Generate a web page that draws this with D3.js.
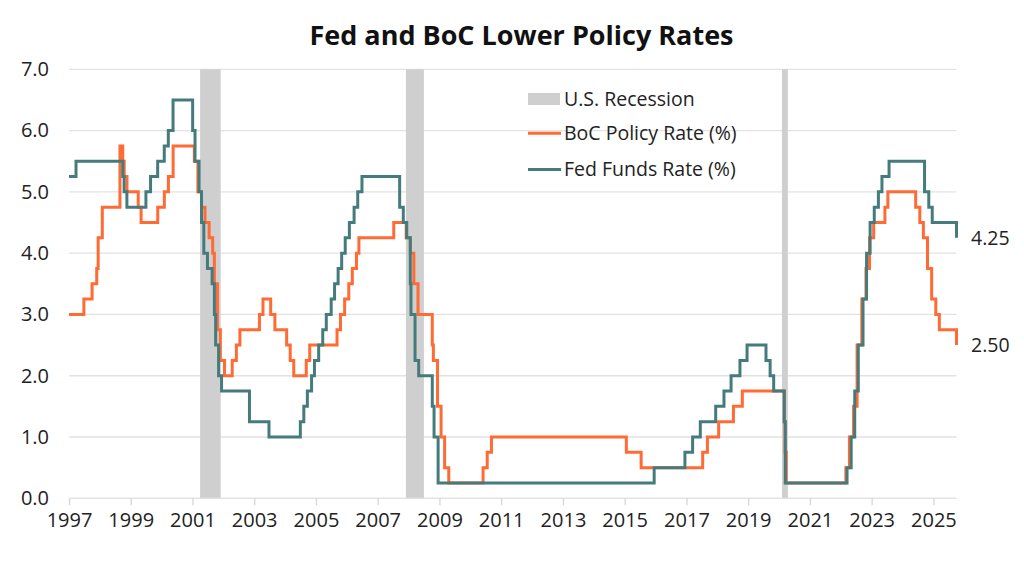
<!DOCTYPE html>
<html>
<head>
<meta charset="utf-8">
<script src="https://cdn.jsdelivr.net/npm/d3@7"></script>
<style>
  html, body { margin: 0; padding: 0; background: #fff; }
  svg { display: block; font-family: "Open Sans", "Noto Sans", sans-serif; }
</style>
</head>
<body>
<svg id="chart" width="1024" height="566"></svg>
<script>
// ---------- DATA ----------
const title = "Fed and BoC Lower Policy Rates";

const xTickYears = [1997, 1999, 2001, 2003, 2005, 2007, 2009, 2011, 2013, 2015, 2017, 2019, 2021, 2023, 2025];
const yTickValues = [0, 1, 2, 3, 4, 5, 6, 7];

const recessions = [
  ["2001-04-01", "2001-12-01"],
  ["2007-12-01", "2008-07-01"],
  ["2020-02-05", "2020-04-15"]
];

// [date of change, rate (%) from that date]
const fedFunds = [
  ["1997-01-01", 5.25], ["1997-03-25", 5.50], ["1998-09-29", 5.25], ["1998-10-15", 5.00],
  ["1998-11-17", 4.75], ["1999-06-30", 5.00], ["1999-08-24", 5.25], ["1999-11-16", 5.50],
  ["2000-02-02", 5.75], ["2000-03-21", 6.00], ["2000-05-16", 6.50], ["2001-01-03", 6.00],
  ["2001-01-31", 5.50], ["2001-03-20", 5.00], ["2001-04-18", 4.50], ["2001-05-15", 4.00],
  ["2001-06-27", 3.75], ["2001-08-21", 3.50], ["2001-09-17", 3.00], ["2001-10-02", 2.50],
  ["2001-11-06", 2.00], ["2001-12-11", 1.75], ["2002-11-06", 1.25], ["2003-06-25", 1.00],
  ["2004-06-30", 1.25], ["2004-08-10", 1.50], ["2004-09-21", 1.75], ["2004-11-10", 2.00],
  ["2004-12-14", 2.25], ["2005-02-02", 2.50], ["2005-03-22", 2.75], ["2005-05-03", 3.00],
  ["2005-06-30", 3.25], ["2005-08-09", 3.50], ["2005-09-20", 3.75], ["2005-11-01", 4.00],
  ["2005-12-13", 4.25], ["2006-01-31", 4.50], ["2006-03-28", 4.75], ["2006-05-10", 5.00],
  ["2006-06-29", 5.25], ["2007-09-18", 4.75], ["2007-10-31", 4.50], ["2007-12-11", 4.25],
  ["2008-01-22", 3.50], ["2008-01-30", 3.00], ["2008-03-18", 2.25], ["2008-04-30", 2.00],
  ["2008-10-08", 1.50], ["2008-10-29", 1.00], ["2008-12-16", 0.25], ["2015-12-16", 0.50],
  ["2016-12-14", 0.75], ["2017-03-15", 1.00], ["2017-06-14", 1.25], ["2017-12-13", 1.50],
  ["2018-03-21", 1.75], ["2018-06-13", 2.00], ["2018-09-26", 2.25], ["2018-12-19", 2.50],
  ["2019-07-31", 2.25], ["2019-09-18", 2.00], ["2019-10-30", 1.75], ["2020-03-03", 1.25],
  ["2020-03-15", 0.25], ["2022-03-16", 0.50], ["2022-05-04", 1.00], ["2022-06-15", 1.75],
  ["2022-07-27", 2.50], ["2022-09-21", 3.25], ["2022-11-02", 4.00], ["2022-12-14", 4.50],
  ["2023-02-01", 4.75], ["2023-03-22", 5.00], ["2023-05-03", 5.25], ["2023-07-26", 5.50],
  ["2024-09-18", 5.00], ["2024-11-07", 4.75], ["2024-12-18", 4.50], ["2025-10-01", 4.25]
];

const bocPolicy = [
  ["1997-01-01", 3.00], ["1997-06-26", 3.25], ["1997-10-01", 3.50], ["1997-11-25", 3.75],
  ["1997-12-12", 4.25], ["1998-01-30", 4.75], ["1998-08-27", 5.75], ["1998-09-29", 5.50],
  ["1998-10-16", 5.25], ["1998-11-18", 5.00], ["1999-03-31", 4.75], ["1999-05-04", 4.50],
  ["1999-11-17", 4.75], ["2000-02-03", 5.00], ["2000-03-22", 5.25], ["2000-05-17", 5.75],
  ["2001-01-23", 5.50], ["2001-03-06", 5.00], ["2001-04-17", 4.75], ["2001-05-29", 4.50],
  ["2001-07-17", 4.25], ["2001-08-28", 4.00], ["2001-09-17", 3.50], ["2001-10-23", 2.75],
  ["2001-11-27", 2.25], ["2002-01-15", 2.00], ["2002-04-16", 2.25], ["2002-06-04", 2.50],
  ["2002-07-16", 2.75], ["2003-03-04", 3.00], ["2003-04-15", 3.25], ["2003-07-15", 3.00],
  ["2003-09-03", 2.75], ["2004-01-20", 2.50], ["2004-03-02", 2.25], ["2004-04-13", 2.00],
  ["2004-09-08", 2.25], ["2004-10-19", 2.50], ["2005-09-07", 2.75], ["2005-10-18", 3.00],
  ["2005-12-06", 3.25], ["2006-01-24", 3.50], ["2006-03-07", 3.75], ["2006-04-25", 4.00],
  ["2006-05-24", 4.25], ["2007-07-10", 4.50], ["2007-12-04", 4.25], ["2008-01-22", 4.00],
  ["2008-03-04", 3.50], ["2008-04-22", 3.00], ["2008-10-08", 2.50], ["2008-10-21", 2.25],
  ["2008-12-09", 1.50], ["2009-01-20", 1.00], ["2009-03-03", 0.50], ["2009-04-21", 0.25],
  ["2010-06-01", 0.50], ["2010-07-20", 0.75], ["2010-09-08", 1.00], ["2015-01-21", 0.75],
  ["2015-07-15", 0.50], ["2017-07-12", 0.75], ["2017-09-06", 1.00], ["2018-01-17", 1.25],
  ["2018-07-11", 1.50], ["2018-10-24", 1.75], ["2020-03-04", 1.25], ["2020-03-13", 0.75],
  ["2020-03-27", 0.25], ["2022-03-02", 0.50], ["2022-04-13", 1.00], ["2022-06-01", 1.50],
  ["2022-07-13", 2.50], ["2022-09-07", 3.25], ["2022-10-26", 3.75], ["2022-12-07", 4.25],
  ["2023-01-25", 4.50], ["2023-06-07", 4.75], ["2023-07-12", 5.00], ["2024-06-05", 4.75],
  ["2024-07-24", 4.50], ["2024-09-04", 4.25], ["2024-10-23", 3.75], ["2024-12-11", 3.25],
  ["2025-01-29", 3.00], ["2025-03-12", 2.75], ["2025-10-01", 2.50]
];

const legendItems = ["U.S. Recession", "BoC Policy Rate (%)", "Fed Funds Rate (%)"];
const xStart = "1997-01-01", xEnd = "2025-10-01";

// ---------- DRAW ----------
const parse = d3.timeParse("%Y-%m-%d");
const svg = d3.select("#chart");

const pLeft = 69, pRight = 956.5, pTop = 69.3, pBottom = 498.3;
const COL_BOC = "#ff6b35", COL_FED = "#457b7d", COL_REC = "#d0cfd0", COL_GRID = "#e2e2e2", COL_TEXT = "#222";
const TICK_FS = 20, LEG_FS = 19.5;

const x = d3.scaleTime().domain([parse(xStart), parse(xEnd)]).range([pLeft, pRight]);
const y = d3.scaleLinear().domain([0, 7]).range([pBottom, pTop]);

// title
svg.append("text")
  .attr("x", 521.5).attr("y", 45)
  .attr("text-anchor", "middle")
  .attr("font-size", 27).attr("font-weight", 700).attr("fill", "#111")
  .text(title);

// gridlines
svg.append("g").selectAll("line").data(yTickValues).join("line")
  .attr("x1", pLeft).attr("x2", pRight)
  .attr("y1", d => y(d)).attr("y2", d => y(d))
  .attr("stroke", COL_GRID).attr("stroke-width", 1.3);

// recession shading
svg.append("g").selectAll("rect").data(recessions).join("rect")
  .attr("x", d => x(parse(d[0])))
  .attr("width", d => x(parse(d[1])) - x(parse(d[0])))
  .attr("y", y(7)).attr("height", y(0) - y(7))
  .attr("fill", COL_REC);

// y labels
const yAxis = d3.axisLeft(y).tickValues(yTickValues).tickFormat(d3.format(".1f")).tickSize(0).tickPadding(20);
const gy = svg.append("g").attr("transform", `translate(${pLeft},0)`).call(yAxis);
gy.select(".domain").remove();
gy.selectAll("text").attr("font-size", TICK_FS).attr("fill", COL_TEXT).attr("font-family", "Open Sans");

// x axis
const xAxis = d3.axisBottom(x)
  .tickValues(xTickYears.map(yr => new Date(yr, 0, 1)))
  .tickFormat(d3.timeFormat("%Y"))
  .tickSize(7).tickPadding(8);
const gx = svg.append("g").attr("transform", `translate(0,${pBottom})`).call(xAxis);
gx.select(".domain").attr("stroke", COL_GRID).attr("stroke-width", 1.3).attr("d", `M${pLeft},0H${pRight}`);
gx.selectAll(".tick line").attr("stroke", "#d6d6d6").attr("stroke-width", 1.3);
gx.selectAll("text").attr("font-size", TICK_FS).attr("fill", COL_TEXT).attr("font-family", "Open Sans");

// lines
const line = d3.line()
  .x(d => x(parse(d[0])))
  .y(d => y(d[1]))
  .curve(d3.curveStepAfter);

svg.append("path").datum(bocPolicy)
  .attr("d", line).attr("fill", "none")
  .attr("stroke", COL_BOC).attr("stroke-width", 3).attr("stroke-linejoin", "miter");

svg.append("path").datum(fedFunds)
  .attr("d", line).attr("fill", "none")
  .attr("stroke", COL_FED).attr("stroke-width", 3).attr("stroke-linejoin", "miter");

// end labels
const lastFed = fedFunds[fedFunds.length - 1], lastBoc = bocPolicy[bocPolicy.length - 1];
[lastFed, lastBoc].forEach(d => {
  svg.append("text")
    .attr("x", 971).attr("y", y(d[1]))
    .attr("dy", "0.35em")
    .attr("font-size", LEG_FS).attr("fill", COL_TEXT)
    .text(d3.format(".2f")(d[1]));
});

// legend
const lg = svg.append("g");
const legY = [99, 133.3, 169.5];
lg.append("rect").attr("x", 528).attr("y", legY[0] - 6).attr("width", 32).attr("height", 12).attr("fill", COL_REC);
lg.append("line").attr("x1", 528).attr("x2", 561).attr("y1", legY[1]).attr("y2", legY[1]).attr("stroke", COL_BOC).attr("stroke-width", 3);
lg.append("line").attr("x1", 528).attr("x2", 561).attr("y1", legY[2]).attr("y2", legY[2]).attr("stroke", COL_FED).attr("stroke-width", 3);
legendItems.forEach((t, i) => {
  lg.append("text").attr("x", 564).attr("y", legY[i]).attr("dy", "0.35em")
    .attr("font-size", LEG_FS).attr("fill", COL_TEXT).text(t);
});
</script>
</body>
</html>
